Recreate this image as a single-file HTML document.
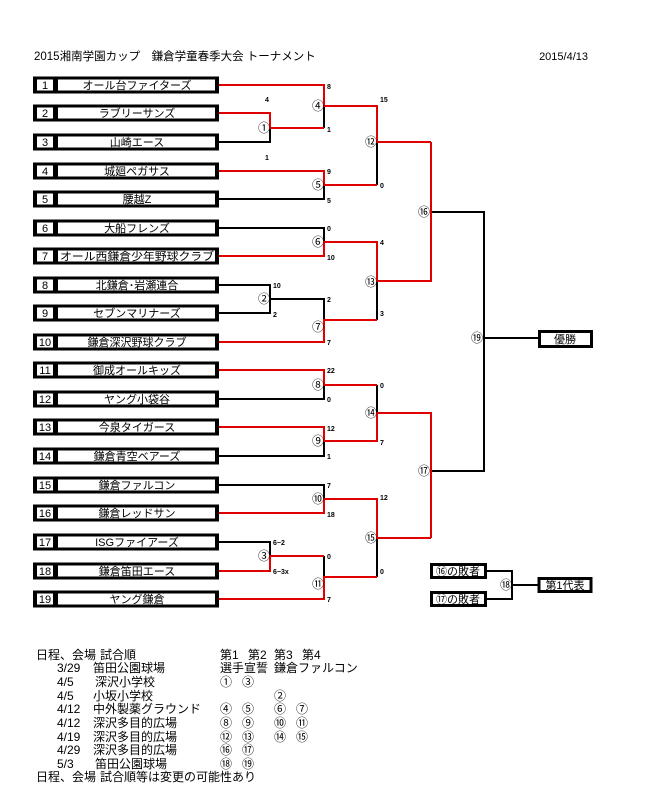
<!DOCTYPE html>
<html><head><meta charset="utf-8"><style>
html,body{margin:0;padding:0;background:#fff;}
svg{display:block;font-family:"Liberation Sans","Noto Sans CJK JP",sans-serif;}
</style></head><body>
<svg width="649" height="797" viewBox="0 0 649 797" xmlns="http://www.w3.org/2000/svg">
<text x="34" y="60" font-size="11.5">2015湘南学園カップ　鎌倉学童春季大会 トーナメント</text>
<text x="588" y="60" font-size="11" text-anchor="end">2015/4/13</text>
<g fill="#000">
<rect x="33" y="76.5" width="186" height="17"/><rect x="33" y="104.5" width="186" height="17"/><rect x="33" y="133.5" width="186" height="17"/><rect x="33" y="162.5" width="186" height="17"/><rect x="33" y="190.5" width="186" height="17"/><rect x="33" y="219.5" width="186" height="17"/><rect x="33" y="247.5" width="186" height="17"/><rect x="33" y="276.5" width="186" height="17"/><rect x="33" y="304.5" width="186" height="17"/><rect x="33" y="333.5" width="186" height="17"/><rect x="33" y="361.5" width="186" height="17"/><rect x="33" y="390.5" width="186" height="17"/><rect x="33" y="418.5" width="186" height="17"/><rect x="33" y="447.5" width="186" height="17"/><rect x="33" y="476.5" width="186" height="17"/><rect x="33" y="504.5" width="186" height="17"/><rect x="33" y="533.5" width="186" height="17"/><rect x="33" y="562.5" width="186" height="17"/><rect x="33" y="590.5" width="186" height="17"/>
</g>
<g fill="#fff">
<rect x="37" y="79.5" width="16" height="11"/><rect x="58" y="79.5" width="157" height="11"/>
<rect x="37" y="107.5" width="16" height="11"/><rect x="58" y="107.5" width="157" height="11"/>
<rect x="37" y="136.5" width="16" height="11"/><rect x="58" y="136.5" width="157" height="11"/>
<rect x="37" y="165.5" width="16" height="11"/><rect x="58" y="165.5" width="157" height="11"/>
<rect x="37" y="193.5" width="16" height="11"/><rect x="58" y="193.5" width="157" height="11"/>
<rect x="37" y="222.5" width="16" height="11"/><rect x="58" y="222.5" width="157" height="11"/>
<rect x="37" y="250.5" width="16" height="11"/><rect x="58" y="250.5" width="157" height="11"/>
<rect x="37" y="279.5" width="16" height="11"/><rect x="58" y="279.5" width="157" height="11"/>
<rect x="37" y="307.5" width="16" height="11"/><rect x="58" y="307.5" width="157" height="11"/>
<rect x="37" y="336.5" width="16" height="11"/><rect x="58" y="336.5" width="157" height="11"/>
<rect x="37" y="364.5" width="16" height="11"/><rect x="58" y="364.5" width="157" height="11"/>
<rect x="37" y="393.5" width="16" height="11"/><rect x="58" y="393.5" width="157" height="11"/>
<rect x="37" y="421.5" width="16" height="11"/><rect x="58" y="421.5" width="157" height="11"/>
<rect x="37" y="450.5" width="16" height="11"/><rect x="58" y="450.5" width="157" height="11"/>
<rect x="37" y="479.5" width="16" height="11"/><rect x="58" y="479.5" width="157" height="11"/>
<rect x="37" y="507.5" width="16" height="11"/><rect x="58" y="507.5" width="157" height="11"/>
<rect x="37" y="536.5" width="16" height="11"/><rect x="58" y="536.5" width="157" height="11"/>
<rect x="37" y="565.5" width="16" height="11"/><rect x="58" y="565.5" width="157" height="11"/>
<rect x="37" y="593.5" width="16" height="11"/><rect x="58" y="593.5" width="157" height="11"/>
</g>
<g font-size="11" text-anchor="middle">
<text x="45" y="89">1</text><text x="137" y="89">オール台ファイターズ</text>
<text x="45" y="117">2</text><text x="137" y="117">ラブリーサンズ</text>
<text x="45" y="146">3</text><text x="137" y="146">山崎エース</text>
<text x="45" y="175">4</text><text x="137" y="175">城廻ペガサス</text>
<text x="45" y="203">5</text><text x="137" y="203">腰越Z</text>
<text x="45" y="232">6</text><text x="137" y="232">大船フレンズ</text>
<text x="45" y="260">7</text><text x="137" y="260" textLength="154" lengthAdjust="spacingAndGlyphs">オール西鎌倉少年野球クラブ</text>
<text x="45" y="289">8</text><text x="137" y="289">北鎌倉･岩瀬連合</text>
<text x="45" y="317">9</text><text x="137" y="317">セブンマリナーズ</text>
<text x="45" y="346">10</text><text x="137" y="346">鎌倉深沢野球クラブ</text>
<text x="45" y="374">11</text><text x="137" y="374">御成オールキッズ</text>
<text x="45" y="403">12</text><text x="137" y="403">ヤング小袋谷</text>
<text x="45" y="431">13</text><text x="137" y="431">今泉タイガース</text>
<text x="45" y="460">14</text><text x="137" y="460">鎌倉青空ベアーズ</text>
<text x="45" y="489">15</text><text x="137" y="489">鎌倉ファルコン</text>
<text x="45" y="517">16</text><text x="137" y="517">鎌倉レッドサン</text>
<text x="45" y="546">17</text><text x="137" y="546">ISGファイアーズ</text>
<text x="45" y="575">18</text><text x="137" y="575">鎌倉笛田エース</text>
<text x="45" y="603">19</text><text x="137" y="603">ヤング鎌倉</text>
</g>
<g fill="none" stroke-width="2">
<g stroke="#000">
<path d="M219 142H270V128"/>
<path d="M324 106V128"/>
<path d="M219 199H324V185"/>
<path d="M219 228H324V242"/>
<path d="M219 285H270V299"/>
<path d="M219 313H270V299"/>
<path d="M270 299H324V320"/>
<path d="M377 142V185"/>
<path d="M377 281V320"/>
<path d="M219 399H324V385"/>
<path d="M219 456H324V441"/>
<path d="M377 385V413"/>
<path d="M219 485H324V499"/>
<path d="M219 542H270V556"/>
<path d="M324 556V577"/>
<path d="M377 538V577"/>
<path d="M431 282V212H484V471H431"/>
<path d="M431 413V471"/>
<path d="M484 338H538"/>
<path d="M487 571H512V599H487"/>
<path d="M512 585H538"/>
</g>
<g stroke="#e00000">
<path d="M219 85H324V106H377V142H431"/>
<path d="M219 113H270V128H324"/>
<path d="M219 171H324V185H377"/>
<path d="M219 256H324V242H377V281H431V142"/>
<path d="M219 342H324V320H377"/>
<path d="M219 370H324V385H377"/>
<path d="M219 427H324V441H377V413H431V538"/>
<path d="M219 513H324V499H377V538H431"/>
<path d="M219 571H270V556H324"/>
<path d="M219 599H324V577H377"/>
</g>
</g>
<g font-size="12" text-anchor="middle">
<text x="318" y="110">④</text><text x="264" y="132">①</text><text x="318" y="189">⑤</text>
<text x="318" y="246">⑥</text><text x="264" y="303">②</text><text x="318" y="331">⑦</text>
<text x="318" y="389">⑧</text><text x="318" y="445">⑨</text><text x="318" y="503">⑩</text>
<text x="264" y="560">③</text><text x="318" y="588">⑪</text>
<text x="371" y="146">⑫</text><text x="371" y="286">⑬</text><text x="371" y="417">⑭</text><text x="371" y="542">⑮</text>
<text x="424" y="216">⑯</text><text x="424" y="475">⑰</text><text x="477" y="342">⑲</text><text x="506" y="589">⑱</text>
</g>
<g font-size="7" font-weight="bold">
<text x="327" y="89">8</text><text x="327" y="132">1</text><text x="265" y="102">4</text><text x="265" y="160">1</text>
<text x="380" y="102">15</text><text x="380" y="188">0</text>
<text x="327" y="174">9</text><text x="327" y="203">5</text>
<text x="327" y="231">0</text><text x="327" y="260">10</text>
<text x="273" y="288">10</text><text x="273" y="317">2</text>
<text x="327" y="302">2</text><text x="327" y="345">7</text>
<text x="380" y="245">4</text><text x="380" y="316">3</text>
<text x="327" y="373">22</text><text x="327" y="402">0</text>
<text x="327" y="431">12</text><text x="327" y="459">1</text>
<text x="380" y="388">0</text><text x="380" y="445">7</text>
<text x="327" y="488">7</text><text x="327" y="517">18</text>
<text x="273" y="545">6−2</text><text x="273" y="574">6−3x</text>
<text x="327" y="559">0</text><text x="327" y="602">7</text>
<text x="380" y="500">12</text><text x="380" y="574">0</text>
</g>
<rect x="539.5" y="331.5" width="52" height="15" fill="#fff" stroke="#000" stroke-width="3"/>
<text x="565" y="343" font-size="11" text-anchor="middle">優勝</text>
<rect x="431.5" y="564.5" width="54" height="13" fill="#fff" stroke="#000" stroke-width="3"/>
<text x="458" y="575" font-size="11" text-anchor="middle">⑯の敗者</text>
<rect x="431.5" y="592.5" width="54" height="13" fill="#fff" stroke="#000" stroke-width="3"/>
<text x="458" y="603" font-size="11" text-anchor="middle">⑰の敗者</text>
<rect x="539" y="578.5" width="52" height="13" fill="#fff" stroke="#000" stroke-width="3"/>
<text x="565" y="589" font-size="11" text-anchor="middle">第1代表</text>
<g font-size="12">
<text x="36" y="659">日程、会場</text><text x="100" y="659">試合順</text>
<text x="220" y="659">第1</text><text x="248" y="659">第2</text><text x="274" y="659">第3</text><text x="302" y="659">第4</text>
<text x="57" y="672">3/29</text><text x="93" y="672">笛田公園球場</text>
<text x="220" y="672">選手宣誓</text><text x="274" y="672">鎌倉ファルコン</text>
<text x="57" y="686">4/5</text><text x="95" y="686">深沢小学校</text>
<text x="220" y="686">①</text><text x="242" y="686">③</text>
<text x="57" y="700">4/5</text><text x="93" y="700">小坂小学校</text>
<text x="274" y="700">②</text>
<text x="57" y="713">4/12</text><text x="93" y="713">中外製薬グラウンド</text>
<text x="220" y="713">④</text><text x="242" y="713">⑤</text><text x="274" y="713">⑥</text><text x="296" y="713">⑦</text>
<text x="57" y="727">4/12</text><text x="93" y="727">深沢多目的広場</text>
<text x="220" y="727">⑧</text><text x="242" y="727">⑨</text><text x="274" y="727">⑩</text><text x="296" y="727">⑪</text>
<text x="57" y="741">4/19</text><text x="93" y="741">深沢多目的広場</text>
<text x="220" y="741">⑫</text><text x="242" y="741">⑬</text><text x="274" y="741">⑭</text><text x="296" y="741">⑮</text>
<text x="57" y="754">4/29</text><text x="93" y="754">深沢多目的広場</text>
<text x="220" y="754">⑯</text><text x="242" y="754">⑰</text>
<text x="57" y="768">5/3</text><text x="95" y="768">笛田公園球場</text>
<text x="220" y="768">⑱</text><text x="242" y="768">⑲</text>
<text x="36" y="781">日程、会場</text><text x="100" y="781">試合順等は変更の可能性あり</text>
</g>
</svg>
</body></html>
